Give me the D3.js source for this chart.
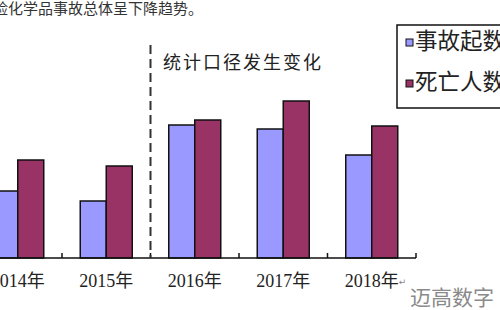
<!DOCTYPE html>
<html>
<head>
<meta charset="utf-8">
<script src="https://cdn.jsdelivr.net/npm/d3@7"></script>
<style>
  html, body { margin: 0; padding: 0; background: #fff; }
  svg { display: block; }
</style>
</head>
<body>
<svg id="chart" width="500" height="310"></svg>
<script>
// data (arbitrary units, no y axis shown)
var years = ['2014年', '2015年', '2016年', '2017年', '2018年'];
var accidents = [67, 57, 133, 129, 103];   // 事故起数
var deaths = [98, 92, 138, 157, 132];      // 死亡人数
var seriesNames = ['事故起数', '死亡人数'];
var seriesColors = ['#9999ff', '#993366'];

var svg = d3.select('#chart');
var baseY = 258;

// x: one band per year, the first band partly off the left edge
var x = d3.scaleBand()
    .domain(years)
    .range([-26.5, 416])
    .padding(0);
var y = d3.scaleLinear()
    .domain([0, 160])
    .range([baseY, baseY - 160]);

var barW = 26;

// top line of text, cut at the left edge like the source crop
svg.append('text')
    .attr('x', -7)
    .attr('y', 14)
    .style('font-family', '"Noto Sans CJK SC", sans-serif')
    .style('font-size', '15px')
    .style('fill', '#333')
    .text('险化学品事故总体呈下降趋势。');

// bars
var groups = svg.selectAll('g.year')
    .data(years)
    .enter().append('g')
    .attr('class', 'year');

groups.append('rect')
    .attr('x', function (d) { return x(d) + x.bandwidth() / 2 - barW; })
    .attr('y', function (d, i) { return y(accidents[i]); })
    .attr('width', barW)
    .attr('height', function (d, i) { return baseY - y(accidents[i]); })
    .attr('fill', seriesColors[0])
    .attr('stroke', '#111')
    .attr('stroke-width', 1.5);

groups.append('rect')
    .attr('x', function (d) { return x(d) + x.bandwidth() / 2; })
    .attr('y', function (d, i) { return y(deaths[i]); })
    .attr('width', barW)
    .attr('height', function (d, i) { return baseY - y(deaths[i]); })
    .attr('fill', seriesColors[1])
    .attr('stroke', '#111')
    .attr('stroke-width', 1.5);

// axis line with inward ticks at band edges
svg.append('line')
    .attr('x1', 0).attr('x2', x.range()[1])
    .attr('y1', baseY).attr('y2', baseY)
    .style('stroke', '#111')
    .style('stroke-width', 1.5);

svg.selectAll('line.tick')
    .data(years)
    .enter().append('line')
    .attr('class', 'tick')
    .attr('x1', function (d) { return x(d) + x.bandwidth(); })
    .attr('x2', function (d) { return x(d) + x.bandwidth(); })
    .attr('y1', baseY)
    .attr('y2', baseY - 5)
    .style('stroke', '#111')
    .style('stroke-width', 1.5);

// year labels
svg.selectAll('text.year')
    .data(years)
    .enter().append('text')
    .attr('class', 'year')
    .attr('x', function (d) { return x(d) + x.bandwidth() / 2; })
    .attr('y', 287)
    .attr('text-anchor', 'middle')
    .style('font-family', '"Liberation Serif", "Noto Sans CJK SC", serif')
    .style('font-size', '18px')
    .style('fill', '#222')
    .text(function (d) { return d; });

// return mark after the last label
svg.append('text')
    .attr('x', x('2018年') + x.bandwidth() / 2 + 27)
    .attr('y', 285)
    .style('font-family', '"DejaVu Sans", sans-serif')
    .style('font-size', '9px')
    .style('fill', '#888')
    .text('↵');

// dashed divider between 2015 and 2016
var divX = x('2016年');
svg.append('line')
    .attr('x1', divX).attr('x2', divX)
    .attr('y1', 45).attr('y2', baseY)
    .style('stroke', '#333')
    .style('stroke-width', 2)
    .style('stroke-dasharray', '9,5');

svg.append('text')
    .attr('x', 163)
    .attr('y', 69)
    .style('font-family', '"Noto Sans CJK SC", sans-serif')
    .style('font-size', '18px')
    .style('letter-spacing', '2px')
    .style('fill', '#222')
    .text('统计口径发生变化');

// legend, cut at the right edge
var legend = svg.append('g');
legend.append('rect')
    .attr('x', 397).attr('y', 25)
    .attr('width', 130).attr('height', 83)
    .attr('fill', '#fff')
    .attr('stroke', '#111')
    .attr('stroke-width', 1.5);

var items = legend.selectAll('g.item')
    .data(seriesNames)
    .enter().append('g')
    .attr('class', 'item')
    .attr('transform', function (d, i) { return 'translate(0,' + (i * 41) + ')'; });

items.append('rect')
    .attr('x', 406).attr('y', 39)
    .attr('width', 7).attr('height', 7)
    .attr('fill', function (d, i) { return seriesColors[i]; })
    .attr('stroke', '#111')
    .attr('stroke-width', 1);

items.append('text')
    .attr('x', 415)
    .attr('y', 49)
    .style('font-family', '"Noto Sans CJK SC", sans-serif')
    .style('font-size', '22.5px')
    .style('fill', '#222')
    .text(function (d) { return d; });

// watermark
svg.append('text')
    .attr('x', 410)
    .attr('y', 305)
    .style('font-family', '"Noto Sans CJK SC", sans-serif')
    .style('font-size', '21px')
    .style('fill', '#8a8a8a')
    .text('迈高数字');
</script>
</body>
</html>
